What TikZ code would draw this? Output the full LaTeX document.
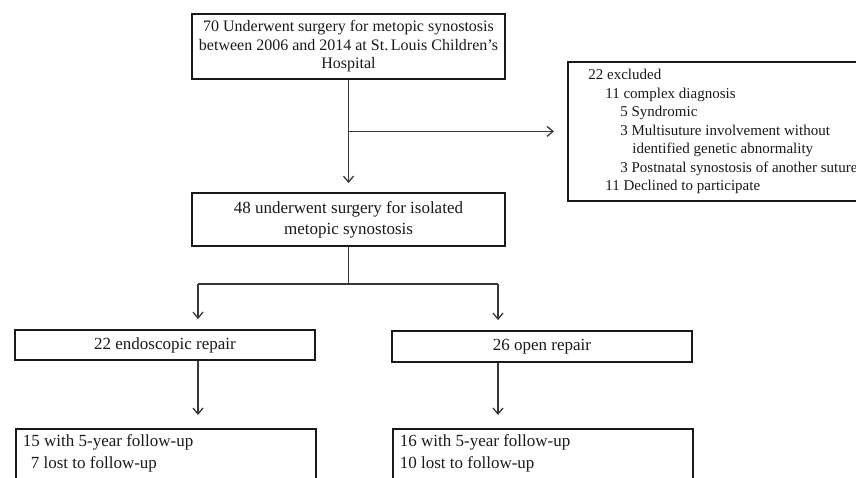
\documentclass[tikz,border=0pt]{standalone}
\usepackage{xcolor}
\usepackage{fontspec}
\setmainfont{Liberation Serif}
\usepackage{tikz}
\usetikzlibrary{arrows.meta, positioning, calc}
\definecolor{mydark}{RGB}{25,25,25}
\definecolor{myline}{RGB}{55,55,55}
\tikzset{
  box/.style={rectangle, draw=mydark, text=mydark, line width=1.8pt,
    inner sep=0pt, align=center, font=\fontsize{16}{18.5}\selectfont},
  armbox/.style={box, minimum width=300pt, minimum height=30pt,
    font=\fontsize{17}{21}\selectfont},
  listbox/.style={box, align=left, inner xsep=6pt,
    font=\fontsize{15}{18.5}\selectfont},
  fubox/.style={box, align=left, inner xsep=7pt, inner ysep=6pt,
    font=\fontsize{17}{22}\selectfont},
  arrow/.style={-{Straight Barb[length=6pt,width=10pt]}, line width=1.3pt, color=myline},
  line/.style={line width=1.3pt, color=myline}
}

\begin{document}
\begin{tikzpicture}[x=1pt, y=-1pt]
  \useasboundingbox (0,0) rectangle (856,477);
  \clip (0,0) rectangle (856,477);
  % Cohort
  \node[box, minimum width=313pt, minimum height=65pt] (total) at (348.5,46.5)
    {70 Underwent surgery for metopic synostosis\\
     between 2006 and 2014 at St.\,Louis Children’s\\
     Hospital};
  \node[box, minimum width=313pt, minimum height=53pt,
    font=\fontsize{17}{21}\selectfont] (iso) at (348.5,219.5)
    {48 underwent surgery for isolated\\ metopic synostosis};
  % Exclusions
  \node[listbox, anchor=north west, minimum width=310pt, minimum height=139pt]
    (excl) at (567,61)
    {22 excluded\\
     \hspace*{17pt}11 complex diagnosis\\
     \hspace*{32pt}5 Syndromic\\
     \hspace*{32pt}3 Multisuture involvement without\\
     \hspace*{44pt}identified genetic abnormality\\
     \hspace*{32pt}3 Postnatal synostosis of another suture\\
     \hspace*{17pt}11 Declined to participate};
  % Repair groups
  \node[armbox] (endo) at (165,345) {22 endoscopic repair};
  \node[armbox, minimum height=31pt] (open) at (542,346.5) {26 open repair};
  % Follow-up
  \node[fubox, anchor=north west] (fuA) at (15,428)
    {\parbox[c][56pt][t]{286pt}{15 with 5-year follow-up\\
     \hspace*{8pt}7 lost to follow-up}};
  \node[fubox, anchor=north west] (fuB) at (392,428)
    {\parbox[c][56pt][t]{286pt}{16 with 5-year follow-up\\
     10 lost to follow-up}};
  % Connectors
  \coordinate (split) at (total.south |- excl.west);
  \draw[arrow, shorten >=9pt] (total) -- (iso);
  \draw[arrow, shorten >=13pt] (split) -- (excl.west);
  \coordinate (fork) at ($(iso.south)+(0,38)$);
  \coordinate (forkL) at (198,284);
  \coordinate (forkR) at (498,284);
  \draw[line] (iso.south) -- (fork);
  \draw[line] (forkL) -- (forkR);
  \draw[arrow, shorten >=10pt] (forkL) -- (forkL |- endo.north);
  \draw[arrow, shorten >=10pt] (forkR) -- (forkR |- open.north);
  \draw[arrow, shorten >=13pt] (endo.south -| forkL) -- (forkL |- fuA.north);
  \draw[arrow, shorten >=13pt] (open.south -| forkR) -- (forkR |- fuB.north);
\end{tikzpicture}
\end{document}
